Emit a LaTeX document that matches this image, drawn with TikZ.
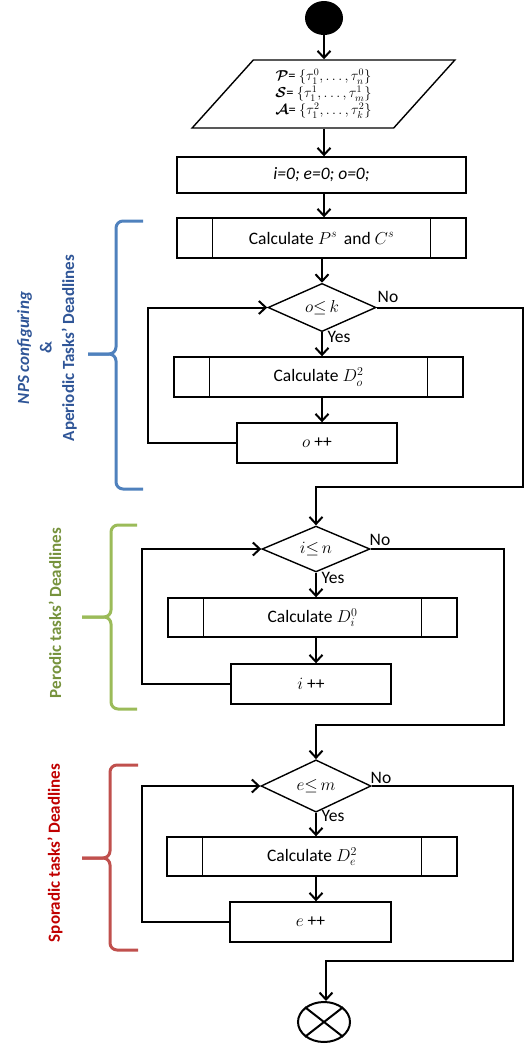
\documentclass[tikz,border=0pt]{standalone}
\usepackage{amsmath,amssymb}
\usepackage{fontspec}
\setmainfont{Carlito}
\usetikzlibrary{shapes.geometric,arrows.meta}
\definecolor{npsblue}{HTML}{2F5597}
\definecolor{npsbrace}{HTML}{4F81BD}
\definecolor{pertxt}{HTML}{76923C}
\definecolor{perbrace}{HTML}{9BBB59}
\definecolor{spotxt}{HTML}{C00000}
\definecolor{spobrace}{HTML}{C0504D}

\begin{document}
\begin{tikzpicture}[x=1pt,y=-1pt,font=\fontsize{17.5}{20}\selectfont,
    box/.style={draw,line width=1.4pt,minimum height=40pt,inner sep=0pt},
    subbox/.style={box,minimum width=289pt},
    decision/.style={draw,diamond,line width=1.4pt,minimum width=108pt,minimum height=43pt,inner sep=0pt,font=\fontsize{16.5}{18}\selectfont},
    arr/.style={line width=2pt,-{Straight Barb[length=7pt,width=13pt,line width=2pt]}},
    lbl/.style={inner sep=0pt},
    brace/.style={line width=3pt,rounded corners=7pt},
    side/.style={rotate=90,align=center,font=\fontsize{17}{22.5}\selectfont\bfseries}]
      \useasboundingbox (0,0) rectangle (525,1045);
      \node[ellipse,fill=black,minimum width=38pt,minimum height=34pt] (start) at (324,18) {};
      \node[trapezium,draw,line width=1.4pt,trapezium left angle=51.5,trapezium right angle=128.5,trapezium stretches=true,
            minimum width=263pt,minimum height=68pt,align=center,font=\fontsize{14.5}{17}\selectfont] (inp) at (323.5,94)
        {$\boldsymbol{\mathcal{P}}$= $\{\tau_1^0, \ldots, \tau_n^0\}$\\
         $\boldsymbol{\mathcal{S}}$= $\{\tau_1^1, \ldots, \tau_m^1\}$\\
         $\boldsymbol{\mathcal{A}}$= $\{\tau_1^2, \ldots, \tau_k^2\}$};
      \node[box,minimum width=289pt,minimum height=36pt] (init) at (321.5,175) {\textit{i=0; e=0; o=0;}};
      \node[subbox] (calcP) at (321.5,238) {Calculate $P^s$\, and $C^s$};
      \node[decision] (dec1) at (322,307.5) {$o{\leq}\,k$};
      \node[subbox] (calcDo) at (318.5,377) {Calculate $D_o^2$};
      \node[box,minimum width=160pt] (incO) at (317,443) {$o$ ++};
      \node[decision] (dec2) at (316,549) {$i{\leq}\,n$};
      \node[subbox,minimum height=39pt] (calcDi) at (312.5,617.5) {Calculate $D_i^0$};
      \node[box,minimum width=160pt] (incI) at (311,684) {$i$ ++};
      \node[decision,minimum width=110pt,minimum height=44pt] (dec3) at (316,786) {$e{\leq}\,m$};
      \node[subbox,minimum width=290pt,minimum height=39pt] (calcDe) at (312,856.5) {Calculate $D_e^2$};
      \node[box,minimum width=161pt] (incE) at (310.5,922) {$e$ ++};
      \node[ellipse,draw,line width=2pt,minimum width=52pt,minimum height=40pt] (stop) at (324,1022) {};
      \draw[line width=2pt] (stop.north west) -- (stop.south east) (stop.north east) -- (stop.south west);
      \foreach \n in {calcP,calcDo,calcDi,calcDe}
        \draw[line width=1.4pt] ([xshift=36pt]\n.north west) -- ([xshift=36pt]\n.south west)
                                ([xshift=-36pt]\n.north east) -- ([xshift=-36pt]\n.south east);

      \coordinate (r1) at (523,487);
      \coordinate (r2) at (504,725);
      \coordinate (r3) at (513,961);

      \draw[arr] (start) -- (start |- inp.north);
      \draw[arr] (inp.south -| start) -- (start |- init.north);
      \draw[arr] (init.south -| start) -- (start |- calcP.north);
      \draw[arr] (calcP.south -| dec1) -- (dec1.north);
      \draw[arr] (dec1.south) -- (dec1 |- calcDo.north);
      \draw[arr] (calcDo.south -| dec1) -- (dec1 |- incO.north);
      \draw[arr] (incO.west) -- ++(-88,0) |- (dec1.west);
      \draw[arr] (dec1.east) -| (r1) -| (dec2.north);
      \draw[arr] (dec2.south) -- (dec2 |- calcDi.north);
      \draw[arr] (calcDi.south -| dec2) -- (dec2 |- incI.north);
      \draw[arr] (incI.west) -- ++(-88,0) |- (dec2.west);
      \draw[arr] (dec2.east) -| (r2) -| (dec3.north);
      \draw[arr] (dec3.south) -- (dec3 |- calcDe.north);
      \draw[arr] (calcDe.south -| dec3) -- (dec3 |- incE.north);
      \draw[arr] (incE.west) -- ++(-87,0) |- (dec3.west);
      \draw[arr] (dec3.east) -| (r3) -| ([xshift=2pt]stop.north);

      \node[lbl] (no1) at (388,297) {No};
      \node[lbl] (yes1) at (339,337) {Yes};
      \node[lbl] (no2) at (380,540) {No};
      \node[lbl] (yes2) at (333,578) {Yes};
      \node[lbl] (no3) at (381,778) {No};
      \node[lbl] (yes3) at (333,816) {Yes};

      \draw[brace,npsbrace] (143,221) -- (116,221) -- (116,354) -- (88,354);
      \draw[brace,npsbrace] (88,354) -- (116,354) -- (116,489) -- (143,489);
      \draw[brace,perbrace] (137,525) -- (111,525) -- (111,617) -- (82,617);
      \draw[brace,perbrace] (82,617) -- (111,617) -- (111,709) -- (137,709);
      \draw[brace,spobrace] (138,765) -- (110,765) -- (110,858) -- (82,858);
      \draw[brace,spobrace] (82,858) -- (110,858) -- (110,950) -- (138,950);

      \node[side,npsblue] (npsl) at (47,348) {\itshape NPS configuring\\ \&\\ Aperiodic Tasks’ Deadlines};
      \node[side,pertxt] (perl) at (55,613) {Perodic tasks’ Deadlines};
      \node[side,spotxt] (spol) at (55,853) {Sporadic tasks’ Deadlines};
    \end{tikzpicture}
\end{document}
